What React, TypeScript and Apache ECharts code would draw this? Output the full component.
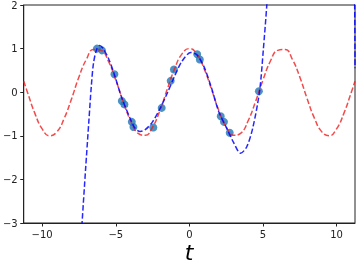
import React, { useEffect, useRef } from "react";
import * as echarts from "echarts";

// x-axis tick labels
const xTicks = [-10, -5, 0, 5, 10];

// red dashed curve
const cosX = [
  -11.25, -11, -10.5, -10, -9.5, -9, -8.5, -8, -7.5, -7, -6.5, -6, -5.5, -5, -4.5, -4, -3.5, -3, -2.5, -2, -1.5, -1, -0.5, 0,
  0.5, 1, 1.5, 2, 2.5, 3, 3.5, 4, 4.5, 5, 5.5, 6, 6.5, 7, 7.5, 8, 8.5, 9, 9.5, 10, 10.5, 11, 11.25,
];
const cosY = [
  0.25, 0.0, -0.48, -0.84, -1.0, -0.91, -0.6, -0.15, 0.35, 0.75, 0.98, 0.96, 0.71, 0.28, -0.21, -0.65, -0.94, -0.99, -0.8, -0.42, 0.07, 0.54, 0.88, 1.0,
  0.88, 0.54, 0.07, -0.42, -0.8, -0.99, -0.94, -0.65, -0.21, 0.28, 0.71, 0.96, 0.98, 0.75, 0.35, -0.15, -0.6, -0.91, -1.0, -0.84, -0.48, 0.0, 0.25,
];

// blue dashed fitted curve
const fitX = [
  -7.45, -7.29, -7.05, -6.82, -6.66, -6.51, -6.3, -6.1, -5.9, -5.5, -5.09, -4.6, -4.0, -3.7, -3.35, -3.0, -2.5, -2.0, -1.5, -1.0, -0.5, 0.1,
  0.5, 1.0, 1.5, 2.0, 2.5, 3.0, 3.48, 3.9, 4.32, 4.77, 5.02, 5.26, 5.45, 6.0, 8.0, 10.0, 11.1, 11.25,
];
const fitY = [
  -3.8, -3.0, -1.77, -0.63, 0.14, 0.67, 0.98, 1.07, 1.02, 0.78, 0.4, -0.12, -0.62, -0.82, -0.9, -0.86, -0.68, -0.38, -0.02, 0.37, 0.71, 0.91,
  0.86, 0.58, 0.1, -0.45, -0.8, -1.15, -1.4, -1.25, -0.8, 0.03, 0.96, 2.0, 3.0, 6.0, 10.0, 8.0, 4.0, 0.55,
];

// sample points
const sampleX = [-6.28, -5.94, -5.09, -4.59, -4.41, -3.91, -3.8, -2.45, -1.88, -1.27, -1.05, 0.53, 0.71, 2.13, 2.35, 2.74, 4.72];
const sampleY = [1.0, 0.96, 0.41, -0.2, -0.28, -0.68, -0.8, -0.81, -0.36, 0.26, 0.52, 0.87, 0.75, -0.55, -0.68, -0.93, 0.02];

const fmt = (v: number) => (v < 0 ? "\u2212" + Math.abs(v) : String(v));

export default function App() {
  const ref = useRef<HTMLDivElement>(null);
  useEffect(() => {
    const chart = echarts.init(ref.current!, null, { renderer: "svg" });
    const axisColor = "#222";
    const labelStyle = { fontSize: 10, color: axisColor, fontFamily: "DejaVu Sans", margin: 6 };
    chart.setOption({
      animation: false,
      grid: { left: 23, right: 3, top: 5, bottom: 41, show: true, borderColor: axisColor, borderWidth: 1 },
      xAxis: {
        type: "value",
        min: -11.25,
        max: 11.25,
        splitLine: { show: false },
        axisLine: { show: true, onZero: false, lineStyle: { color: axisColor } },
        axisTick: { show: true, length: 3.5, customValues: xTicks, lineStyle: { color: axisColor } },
        axisLabel: { ...labelStyle, customValues: xTicks, formatter: fmt },
      },
      yAxis: {
        type: "value",
        min: -3,
        max: 2,
        interval: 1,
        splitLine: { show: false },
        axisLine: { show: true, onZero: false, lineStyle: { color: axisColor } },
        axisTick: { show: true, length: 3.5, lineStyle: { color: axisColor } },
        axisLabel: { ...labelStyle, formatter: fmt },
      },
      series: [
        {
          type: "scatter",
          data: sampleX.map((x, i) => [x, sampleY[i]]),
          symbolSize: 8,
          itemStyle: { color: "#1f77b4", opacity: 0.8 },
          z: 2,
        },
        {
          type: "line",
          data: cosX.map((x, i) => [x, cosY[i]]),
          smooth: true,
          showSymbol: false,
          lineStyle: { color: "rgba(240,30,30,0.8)", width: 1.5, type: [5.5, 2.4] },
          z: 3,
        },
        {
          type: "line",
          data: fitX.map((x, i) => [x, fitY[i]]),
          smooth: 0.3,
          showSymbol: false,
          lineStyle: { color: "rgba(0,0,255,0.85)", width: 1.5, type: [5.5, 2.4] },
          z: 4,
        },
      ],
      graphic: [
        {
          type: "text",
          x: 189,
          y: 252,
          style: {
            text: "t",
            font: 'italic 22px "DejaVu Sans"',
            textAlign: "center",
            textVerticalAlign: "middle",
            verticalAlign: "middle",
            fill: "#000",
          },
        },
      ],
    });
    return () => chart.dispose();
  }, []);
  return <div ref={ref} style={{ position: "fixed", left: 0, top: 0, width: 358, height: 264 }} />;
}
